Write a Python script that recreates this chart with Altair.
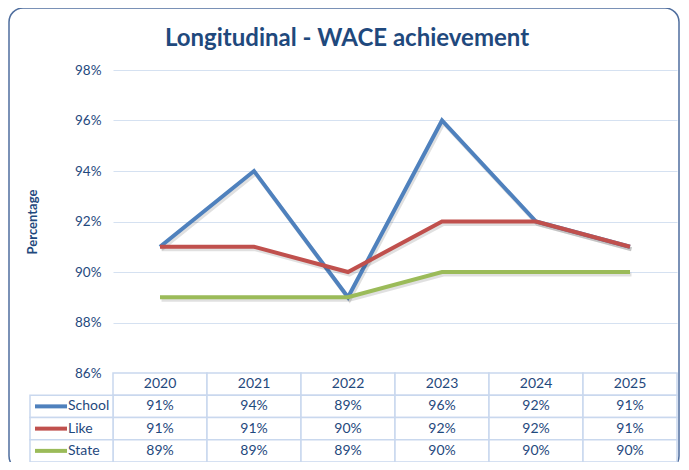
import altair as alt
import pandas as pd

years = ["2020", "2021", "2022", "2023", "2024", "2025"]
series = ["School", "Like", "State"]
school = [91, 94, 89, 96, 92, 91]
like = [91, 91, 90, 92, 92, 91]
state = [89, 89, 89, 90, 90, 90]
colors = ["#4F81BD", "#C0504D", "#9BBB59"]
y_ticks = [86, 88, 90, 92, 94, 96, 98]
title_text = "Longitudinal - WACE achievement"
y_title = "Percentage"

rows = []
for s, vals in zip(series, [school, like, state]):
    for yr, v in zip(years, vals):
        rows.append({"year": yr, "series": s, "value": v, "label": f"{v}%"})
df = pd.DataFrame(rows)

trows = [{"year": yr, "row": "hdr", "label": yr} for yr in years]
trows += [{"year": r["year"], "row": r["series"], "label": r["label"]} for r in rows]
tdf = pd.DataFrame(trows)
ldf = pd.DataFrame({"row": series})

W, H, PH = 564, 392, 303
FONT = "Lato"
TXT = "#1F497D"
GRID = "#C9D8EE"

x_pt = alt.X("year:N", scale=alt.Scale(type="point", domain=years, padding=0.5), axis=None)
y_lin = alt.Y(
    "value:Q",
    scale=alt.Scale(domain=[86, 98], range=[PH, 0], nice=False, zero=False),
    axis=alt.Axis(values=y_ticks, labelExpr="datum.value + '%'", grid=True,
                  gridColor="#D5E1F1", gridWidth=1, domain=False, ticks=False,
                  labelPadding=12, labelFontSize=13.5, labelColor=TXT, labelFont=FONT,
                  title=y_title, titleFontSize=13, titleFont=FONT, titleFontWeight="bold",
                  titleColor=TXT, titlePadding=35),
)
color = alt.Color("series:N", scale=alt.Scale(domain=series, range=colors), legend=None)

base = alt.Chart(df)
line_layers = []
for s in series:
    line_layers.append(
        base.transform_filter(alt.datum.series == s)
        .mark_line(strokeWidth=4, color="#000000", opacity=0.12, xOffset=1.5, yOffset=2.5)
        .encode(x=x_pt, y=y_lin, detail="series:N")
    )
    line_layers.append(
        base.transform_filter(alt.datum.series == s)
        .mark_line(strokeWidth=4)
        .encode(x=x_pt, y=y_lin, color=color)
    )
lines = alt.layer(*line_layers)

x_band = alt.X("year:N", scale=alt.Scale(type="band", domain=years, paddingInner=0, paddingOuter=0), axis=None)
y_scale = alt.Scale(type="band", domain=["hdr"] + series, range=[PH, H], paddingInner=0, paddingOuter=0)
y_band = alt.Y("row:N", scale=y_scale, axis=None)

cells = alt.Chart(tdf).mark_rect(fill="white", stroke=GRID, strokeWidth=1.5).encode(x=x_band, y=y_band)
ctext = alt.Chart(tdf).mark_text(font=FONT, fontSize=14, color=TXT, baseline="middle").encode(
    x=x_band, y=y_band, text="label:N")
lcells = alt.Chart(ldf).mark_rect(fill="white", stroke=GRID, strokeWidth=1.5).encode(
    x=alt.value(-83), x2=alt.value(0), y=y_band)
swatch = alt.Chart(ldf).mark_rule(strokeWidth=4).encode(
    x=alt.value(-78), x2=alt.value(-46),
    y=alt.Y("row:N", scale=y_scale, axis=None, bandPosition=0.5),
    color=alt.Color("row:N", scale=alt.Scale(domain=series, range=colors), legend=None))
ltext = alt.Chart(ldf).mark_text(font=FONT, fontSize=14, color=TXT, align="left", baseline="middle").encode(
    x=alt.value(-45), y=y_band, text="row:N")
table = alt.layer(cells, ctext, lcells, swatch, ltext)

one = pd.DataFrame({"t": [title_text]})
border = alt.Chart(one).mark_rect(fillOpacity=0, stroke="#4F6E9E", strokeWidth=1.5, cornerRadius=14).encode(
    x=alt.value(-104), x2=alt.value(566), y=alt.value(-62), y2=alt.value(400))
title = alt.Chart(one).mark_text(font=FONT, fontSize=24, fontWeight="bold", color=TXT,
                                 align="center", baseline="middle").encode(
    x=alt.value(234), y=alt.value(-31), text="t:N")

chart = alt.layer(border, title, lines, table).resolve_scale(
    x="independent", y="independent", color="independent"
).properties(
    width=W, height=H,
    autosize=alt.AutoSizeParams(type="none"),
    padding={"left": 105, "top": 62, "right": 4, "bottom": 0},
).configure_view(stroke=None)

chart.save("out.html", embed_options={"renderer": "svg", "actions": False})
